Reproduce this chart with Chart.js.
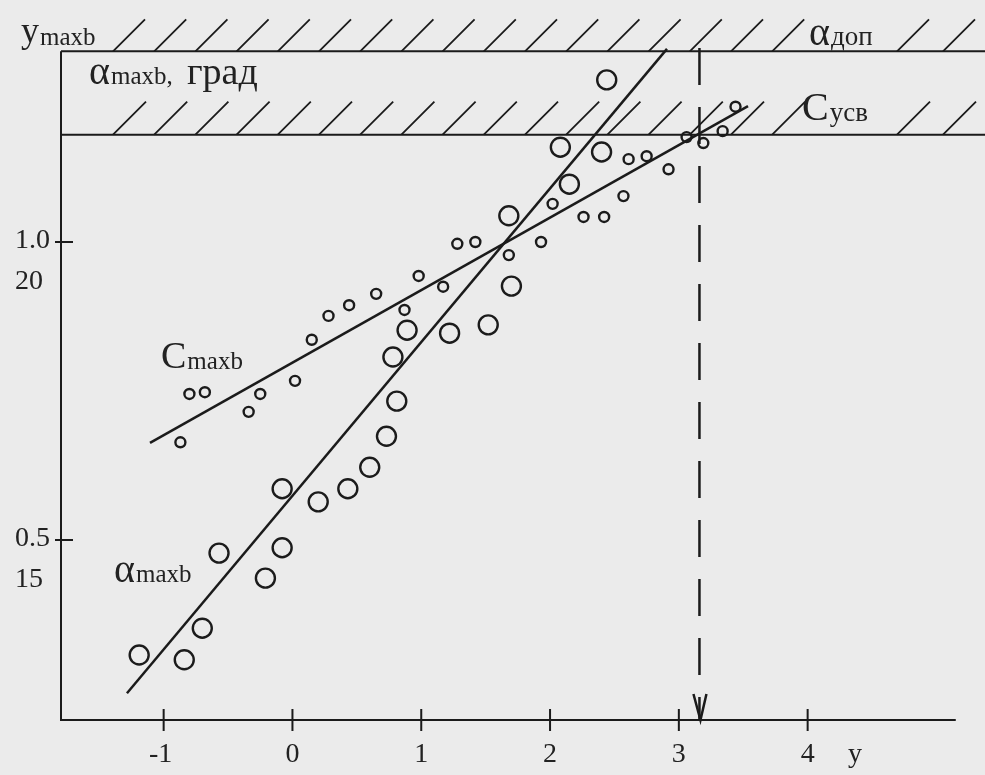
<!DOCTYPE html>
<html>
<head>
<meta charset="utf-8">
<script src="https://cdn.jsdelivr.net/npm/chart.js@4.4.1/dist/chart.umd.min.js"></script>
<style>
html, body { margin: 0; padding: 0; background: #ebebeb; overflow: hidden; }
#wrap { width: 985px; height: 775px; }
</style>
</head>
<body>
<div id="wrap"><canvas id="chart" width="985" height="775"></canvas></div>
<script>
// small circles: C_maxb against y
const cX = [-0.87, -0.80, -0.68, -0.34, -0.25, 0.02, 0.15, 0.28, 0.44, 0.65, 0.87, 0.98, 1.17, 1.28,
            1.42, 1.68, 1.93, 2.02, 2.26, 2.42, 2.57, 2.61, 2.75, 2.92, 3.06, 3.19, 3.34, 3.44];
const cY = [0.664, 0.745, 0.748, 0.715, 0.745, 0.767, 0.836, 0.876, 0.894, 0.913, 0.886, 0.943, 0.925, 0.997,
            1.000, 0.978, 1.000, 1.064, 1.042, 1.042, 1.077, 1.139, 1.144, 1.122, 1.176, 1.166, 1.186, 1.227];

// big circles: alpha_maxb (deg) against y
const aX = [-1.19, -0.84, -0.70, -0.57, -0.21, -0.08, -0.08, 0.20, 0.43, 0.60, 0.73,
            0.81, 0.78, 0.89, 1.22, 1.52, 1.70, 1.68, 2.15, 2.08, 2.40, 2.44];
const aY = [13.07, 12.99, 13.52, 14.78, 14.36, 14.87, 15.86, 15.64, 15.86, 16.22, 16.74,
            17.33, 18.07, 18.52, 18.47, 18.61, 19.26, 20.44, 20.97, 21.59, 21.51, 22.72];

// fitted straight lines (end points)
const cLineX = [-1.106, 3.537];
const cLineY = [0.663, 1.228];
const aLineX = [-1.285, 2.908];
const aLineY = [12.43, 23.24];

// limits
const ALPHA_DOP = 23.2;  // upper hatched boundary, alpha scale
const C_USV = 1.18;      // lower hatched boundary, C scale
const Y_LIMIT = 3.16;    // dashed vertical with arrow

// ticks
const xTicks = [-1, 0, 1, 2, 3, 4];
const cTicks = [1.0, 0.5];
const cTickLabels = ['1.0', '0.5'];
const aTicks = [20, 15];
const aTickLabels = ['20', '15'];

// axis ranges (alpha = 10 + 10*C)
const C_MIN = 0.198, C_MAX = 1.3255;
const X_MIN = -1.797, X_MAX = 5.377, X_AXIS_END = 5.15;

const INK = '#1b1b1b';
const FONT = '"Liberation Serif", "DejaVu Serif", serif';

function pts(xs, ys) {
    return xs.map((v, i) => ({ x: v, y: ys[i] }));
}

function drawSub(ctx, main, sub, x, y, mainPx, subPx, subDy) {
    ctx.font = mainPx + 'px ' + FONT;
    ctx.fillText(main, x, y);
    const w = ctx.measureText(main).width;
    ctx.font = subPx + 'px ' + FONT;
    ctx.fillText(sub, x + w + 1, y + subDy);
}

function hatch(ctx, xs, yBase, len) {
    xs.forEach(px => {
        ctx.moveTo(px, yBase);
        ctx.lineTo(px + len, yBase - len);
    });
}

const framePlugin = {
    id: 'frame',
    beforeDatasetsDraw(chart) {
        const { ctx, scales: { x, yC, yA } } = chart;
        const left = x.getPixelForValue(X_MIN);
        const right = chart.width;
        const yTop = yA.getPixelForValue(ALPHA_DOP);
        const yUsv = yC.getPixelForValue(C_USV);
        const yBot = yC.getPixelForValue(C_MIN);

        ctx.save();
        ctx.strokeStyle = INK;
        ctx.lineWidth = 2;
        ctx.beginPath();
        ctx.moveTo(left, yTop); ctx.lineTo(right, yTop);
        ctx.moveTo(left, yUsv); ctx.lineTo(right, yUsv);
        ctx.moveTo(left, yTop); ctx.lineTo(left, yBot);
        ctx.lineTo(x.getPixelForValue(X_AXIS_END), yBot);

        // tick marks
        xTicks.forEach(v => {
            const px = x.getPixelForValue(v);
            ctx.moveTo(px, yBot - 11); ctx.lineTo(px, yBot + 11);
        });
        cTicks.forEach(v => {
            const py = yC.getPixelForValue(v);
            ctx.moveTo(left - 6, py); ctx.lineTo(left + 12, py);
        });
        ctx.stroke();

        // hatching above both boundaries
        const hx = [];
        for (let i = 0; i < 17; i++) hx.push(113 + i * 41.2);
        hx.push(897, 943);
        ctx.lineWidth = 1.8;
        ctx.beginPath();
        hatch(ctx, hx, yTop, 32);
        hatch(ctx, hx, yUsv, 33);
        ctx.stroke();
        ctx.restore();
    },
    afterDatasetsDraw(chart) {
        const { ctx, scales: { x, yC, yA } } = chart;
        const yBot = yC.getPixelForValue(C_MIN);
        const ax = x.getPixelForValue(Y_LIMIT);
        ctx.save();
        ctx.strokeStyle = INK;
        ctx.lineWidth = 2.5;
        ctx.beginPath();
        ctx.moveTo(ax - 6, yBot - 26);
        ctx.lineTo(ax + 1, yBot);
        ctx.lineTo(ax + 7, yBot - 26);
        ctx.stroke();

        ctx.fillStyle = '#222';
        ctx.textBaseline = 'alphabetic';

        // x tick labels
        ctx.font = '28px ' + FONT;
        ctx.textAlign = 'center';
        xTicks.forEach(v => {
            ctx.fillText(String(v), x.getPixelForValue(v) - (v < 0 ? 3 : 0), 762);
        });
        ctx.fillText('y', 855, 762);

        // left tick labels
        ctx.textAlign = 'left';
        cTicks.forEach((v, i) => {
            ctx.fillText(cTickLabels[i], 15, yC.getPixelForValue(v) + 6);
        });
        aTicks.forEach((v, i) => {
            ctx.fillText(aTickLabels[i], 15, yA.getPixelForValue(v) + 47);
        });

        // titles and curve labels
        drawSub(ctx, 'y', 'maxb', 21, 42, 36, 25, 3);
        drawSub(ctx, '\u03b1', 'maxb,', 89, 84, 40, 25, 0);
        ctx.font = '38px ' + FONT;
        ctx.fillText('\u0433\u0440\u0430\u0434', 187, 84);
        drawSub(ctx, 'C', 'maxb', 161, 368, 38, 25, 1);
        drawSub(ctx, '\u03b1', 'maxb', 114, 582, 40, 25, 0);
        drawSub(ctx, '\u03b1', '\u0434\u043e\u043f', 809, 45, 40, 27, 0);
        drawSub(ctx, 'C', '\u0443\u0441\u0432', 802, 120, 40, 27, 1);
        ctx.restore();
    }
};

const circleStyle = {
    showLine: false,
    pointStyle: 'circle',
    pointBackgroundColor: 'rgba(0,0,0,0)',
    pointBorderColor: INK,
    borderColor: INK
};
const lineStyle = {
    showLine: true,
    pointRadius: 0,
    borderColor: INK,
    borderWidth: 2.5,
    fill: false,
    clip: false
};

const chart = new Chart(document.getElementById('chart'), {
    type: 'scatter',
    data: {
        datasets: [
            { ...circleStyle, label: 'C maxb', data: pts(cX, cY), yAxisID: 'yC', pointRadius: 5, pointBorderWidth: 2.4 },
            { ...circleStyle, label: 'alpha maxb', data: pts(aX, aY), yAxisID: 'yA', pointRadius: 9.5, pointBorderWidth: 2.4 },
            { ...lineStyle, label: 'C fit', data: pts(cLineX, cLineY), yAxisID: 'yC' },
            { ...lineStyle, label: 'alpha fit', data: pts(aLineX, aLineY), yAxisID: 'yA' },
            { ...lineStyle, label: 'y limit', data: pts([Y_LIMIT, Y_LIMIT], [C_MAX, C_MIN]), yAxisID: 'yC',
              borderDash: [37, 22], borderCapStyle: 'butt' }
        ]
    },
    options: {
        responsive: false,
        animation: false,
        layout: { autoPadding: false, padding: { left: 61, top: 48, right: 0, bottom: 55 } },
        plugins: { legend: { display: false }, tooltip: { enabled: false } },
        scales: {
            x: { type: 'linear', display: false, min: X_MIN, max: X_MAX },
            yC: { type: 'linear', display: false, min: C_MIN, max: C_MAX },
            yA: { type: 'linear', display: false, min: 10 + 10 * C_MIN, max: 10 + 10 * C_MAX }
        }
    },
    plugins: [framePlugin]
});
</script>
</body>
</html>
